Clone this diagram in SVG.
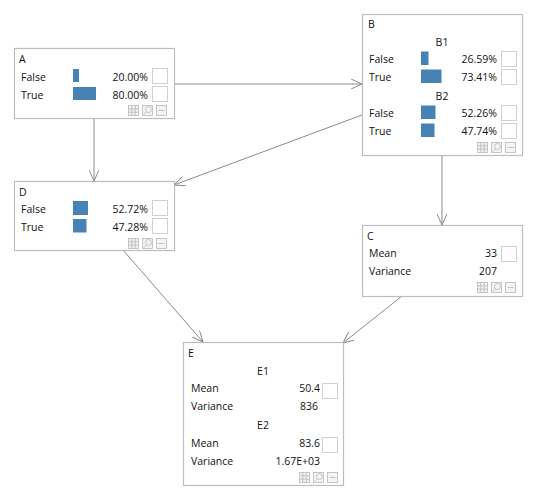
<svg xmlns="http://www.w3.org/2000/svg" width="533" height="497" viewBox="0 0 533 497">
<style>
text{font-family:"Open Sans","Noto Sans",sans-serif;font-size:10.5px;fill:#111}
.node{fill:#fff;stroke:#bdbdbd;stroke-width:1.2}
.bar{fill:#4682b4}
.cb{fill:#fff;stroke:#d0d0d0;stroke-width:1}
.r{text-anchor:end}
.c{text-anchor:middle}
.conn{stroke:#8a8a8a;stroke-width:1;fill:none}
.ic{fill:#f4f4f4;stroke:#b8b8b8;stroke-width:0.8}
.il{stroke:#b8b8b8;stroke-width:0.8;fill:none}
</style>
<defs>
<marker id="arr" viewBox="0 0 12 10" refX="11" refY="5" markerWidth="12" markerHeight="10" markerUnits="userSpaceOnUse" orient="auto">
<path d="M0,0 L11,5 L0,10" fill="none" stroke="#8a8a8a" stroke-width="1"/>
</marker>
<g id="icons">
<rect class="ic" x="0.5" y="0.5" width="10" height="10"/>
<path class="il" d="M3.8,1 V10 M7.2,1 V10 M1,3.8 H10 M1,7.2 H10"/>
<rect class="ic" x="14.5" y="0.5" width="10" height="10"/>
<circle class="il" cx="20.5" cy="4.5" r="3"/>
<path class="il" d="M18.3,6.8 L15.8,9.5"/>
<rect class="ic" x="28.5" y="0.5" width="10" height="10"/>
<path class="il" d="M30.5,5.5 H36.5"/>
</g>
</defs>
<g id="connectors">
<path class="conn" d="M175,84 H362" marker-end="url(#arr)"/>
<path class="conn" d="M94,118 V181" marker-end="url(#arr)"/>
<path class="conn" d="M362,115 L174,185" marker-end="url(#arr)"/>
<path class="conn" d="M442,156 V225" marker-end="url(#arr)"/>
<path class="conn" d="M123,250 L203,342" marker-end="url(#arr)"/>
<path class="conn" d="M402,296 L343,343" marker-end="url(#arr)"/>
</g>
<g id="A">
<rect class="node" x="14.5" y="48.5" width="160" height="70"/>
<text x="19" y="63">A</text>
<text x="21" y="80.5">False</text>
<rect class="bar" x="73" y="69" width="6" height="13"/>
<text class="r" x="148" y="80.5">20.00%</text>
<rect class="cb" x="152.5" y="68.5" width="15" height="15"/>
<text x="21" y="98.5">True</text>
<rect class="bar" x="73" y="87" width="23" height="13"/>
<text class="r" x="148" y="98.5">80.00%</text>
<rect class="cb" x="152.5" y="86.5" width="15" height="15"/>
<use href="#icons" x="128" y="105"/>
</g>
<g id="B">
<rect class="node" x="362.5" y="14.5" width="160" height="141"/>
<text x="368" y="28">B</text>
<text class="c" x="442" y="46">B1</text>
<text x="369" y="63">False</text>
<rect class="bar" x="421" y="51.5" width="7.5" height="13.5"/>
<text class="r" x="497" y="63">26.59%</text>
<rect class="cb" x="501.5" y="51.5" width="15" height="15"/>
<text x="369" y="81">True</text>
<rect class="bar" x="421" y="69.5" width="20.5" height="13.5"/>
<text class="r" x="497" y="81">73.41%</text>
<rect class="cb" x="501.5" y="69.5" width="15" height="15"/>
<text class="c" x="442" y="100">B2</text>
<text x="369" y="117">False</text>
<rect class="bar" x="421" y="105.5" width="14.5" height="13.5"/>
<text class="r" x="497" y="117">52.26%</text>
<rect class="cb" x="501.5" y="105.5" width="15" height="15"/>
<text x="369" y="135">True</text>
<rect class="bar" x="421" y="123.5" width="13.5" height="13.5"/>
<text class="r" x="497" y="135">47.74%</text>
<rect class="cb" x="501.5" y="123.5" width="15" height="15"/>
<use href="#icons" x="477" y="142"/>
</g>
<g id="D">
<rect class="node" x="14.5" y="181.5" width="160" height="69"/>
<text x="19" y="196">D</text>
<text x="21" y="212.5">False</text>
<rect class="bar" x="73" y="201" width="15" height="14"/>
<text class="r" x="148" y="212.5">52.72%</text>
<rect class="cb" x="152.5" y="200.5" width="15" height="15"/>
<text x="21" y="230.5">True</text>
<rect class="bar" x="73" y="219" width="13.5" height="13.5"/>
<text class="r" x="148" y="230.5">47.28%</text>
<rect class="cb" x="152.5" y="218.5" width="15" height="15"/>
<use href="#icons" x="128" y="238"/>
</g>
<g id="C">
<rect class="node" x="362.5" y="225.5" width="160" height="71"/>
<text x="367" y="240">C</text>
<text x="369" y="257">Mean</text>
<text class="r" x="497" y="257">33</text>
<rect class="cb" x="501.5" y="246.5" width="15" height="15"/>
<text x="369" y="275">Variance</text>
<text class="r" x="497" y="275">207</text>
<use href="#icons" x="477" y="282"/>
</g>
<g id="E">
<rect class="node" x="183.5" y="342.5" width="160" height="143"/>
<text x="188" y="357">E</text>
<text class="c" x="263" y="375">E1</text>
<text x="191" y="392">Mean</text>
<text class="r" x="320" y="392">50.4</text>
<rect class="cb" x="322.5" y="383.5" width="15" height="15"/>
<text x="191" y="410">Variance</text>
<text class="r" x="318" y="410">836</text>
<text class="c" x="263" y="429">E2</text>
<text x="191" y="447">Mean</text>
<text class="r" x="320" y="447">83.6</text>
<rect class="cb" x="322.5" y="437.5" width="15" height="15"/>
<text x="191" y="465">Variance</text>
<text class="r" x="320" y="465">1.67E+03</text>
<use href="#icons" x="299" y="472"/>
</g>
</svg>
